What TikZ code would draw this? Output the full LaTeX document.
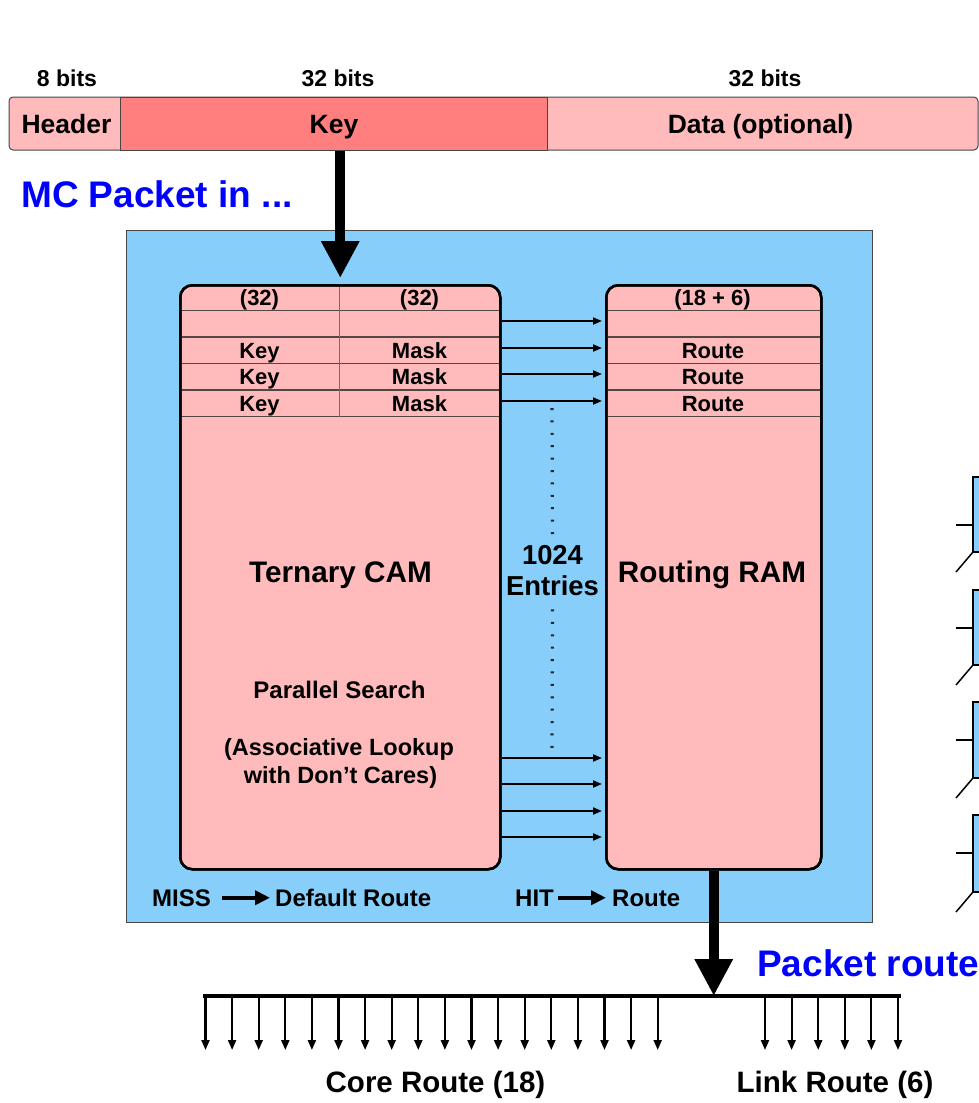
\documentclass[tikz,border=0pt]{standalone}
\usepackage{fontspec}
\setmainfont{Liberation Sans}
\usetikzlibrary{arrows.meta,calc}
\definecolor{skyb}{RGB}{135,206,250}
\definecolor{pinkf}{RGB}{255,187,187}
\definecolor{salmonf}{RGB}{255,127,127}
\definecolor{pblue}{RGB}{0,0,255}
\definecolor{edgegray}{RGB}{70,70,70}
\definecolor{rowgray}{RGB}{85,70,70}
\begin{document}
\begin{tikzpicture}[x=1pt,y=-1pt,
  lbl/.style={inner sep=0pt, anchor=base, text=black, font=\bfseries\fontsize{#1}{#1}\selectfont},
  lblw/.style={lbl=#1, anchor=base west},
  ramstyle/.style={draw=black, line width=2.5pt, fill=pinkf, rounded corners=12pt, inner sep=0pt, anchor=north west},
  rowline/.style={draw=rowgray, line width=1.6pt},
  bigarrow/.style={line width=10pt, -{Triangle[length=37pt,width=36pt]}},
  rowarrow/.style={line width=1.9pt, -{Triangle[length=9pt,width=7pt]}, shorten >=3pt},
  busarrow/.style={line width=2.1pt, -{Triangle[length=10pt,width=8pt]}},
  midarrow/.style={line width=4pt, -{Triangle[length=15pt,width=14pt]}},
  dotline/.style={draw=black!85, line width=3.2pt, dash pattern=on 2pt off 10.4pt},
  sideitem/.style={line width=1.5pt}
]
\useasboundingbox (0,0) rectangle (979,1103);

% ---------- packet bar ----------
\draw[draw=edgegray, line width=1pt, fill=pinkf, rounded corners=4pt] (9,97) rectangle (978,150);
\node[draw=edgegray, line width=1pt, fill=salmonf, minimum width=427pt, minimum height=53pt, inner sep=0pt, anchor=north west] (keyc) at (120,97) {};
\node[lbl=23] (b8) at (67,86) {8 bits};
\node[lbl=23] (b32a) at (338,86) {32 bits};
\node[lbl=23] (b32b) at (765,86) {32 bits};
\node[lbl=26.5] (thdr) at (66.5,133) {Header};
\node[lbl=26.5] (tkey) at (334,133) {Key};
\node[lbl=26.5] (tdata) at (760.5,133) {Data (optional)};

\node[lblw=37, text=pblue] (mcin) at (21,207) {MC Packet in ...};

% ---------- chip ----------
\node[draw=edgegray, line width=1.2pt, fill=skyb, minimum width=746pt, minimum height=692pt, inner sep=0pt, anchor=north west] (chip) at (126,230) {};

\node[ramstyle, minimum width=320pt, minimum height=584pt] (cam) at (179,284) {};
\node[ramstyle, minimum width=215pt, minimum height=584pt] (ram) at (605,284) {};

% row coordinates
\coordinate (l1) at (0,310.5);
\coordinate (l2) at (0,337);
\coordinate (l3) at (0,363.5);
\coordinate (l4) at (0,390);
\coordinate (l5) at (0,416.5);
\foreach \l in {l1,l2,l3,l4,l5}{
  \draw[rowline] (cam.west |- \l) -- (cam.east |- \l);
  \draw[rowline] (ram.west |- \l) -- (ram.east |- \l);
}
\coordinate (vtop) at (339,284);
\coordinate (vbot) at (339,416.5);
\draw[draw=rowgray!80, line width=1pt] (vtop) -- (vbot);
% redraw outlines on top
\node[ramstyle, fill=none, minimum width=320pt, minimum height=584pt] at (179,284) {};
\node[ramstyle, fill=none, minimum width=215pt, minimum height=584pt] at (605,284) {};

\node[lbl=22] (h1) at (259.5,305) {(32)};
\node[lbl=22] (h2) at (419.5,305) {(32)};
\node[lbl=22] (h3) at (712.5,305) {(18 + 6)};
\foreach \yb/\n in {358/1,384/2,411/3}{
  \node[lbl=22] (k\n) at (259.5,\yb) {Key};
  \node[lbl=22] (m\n) at (419.5,\yb) {Mask};
  \node[lbl=22] (r\n) at (713,\yb) {Route};
}

\node[lbl=29.7] (tcam) at (340.5,582) {Ternary CAM};
\node[lbl=29.7] (tram) at (712,582) {Routing RAM};
\node[lbl=24] (psearch) at (339.5,698) {Parallel Search};
\node[lbl=23.5] (assoc1) at (339,755) {(Associative Lookup};
\node[lbl=23.5] (assoc2) at (340.5,783) {with Don’t Cares)};

\node[lbl=27.4] (n1024) at (552.5,564) {1024};
\node[lbl=27.4] (nent) at (552.5,595) {Entries};
\coordinate (dtop) at (552,408);
\coordinate (dbot) at (552,750);
\draw[dotline] (dtop) -- ([yshift=8pt]n1024.north);
\draw[dotline] ([yshift=-14pt]nent.south) -- (dbot);

% arrows between CAM and RAM
\foreach \yy in {321,348,374,401,758,784,811,837}{
  \coordinate (ar) at (0,\yy);
  \draw[rowarrow] (cam.east |- ar) -- (ram.west |- ar);
}

% MISS / HIT
\node[lblw=24] (miss) at (152,906) {MISS};
\node[lblw=24] (dflt) at (275,906) {Default Route};
\node[lblw=24] (hit) at (515,906) {HIT};
\node[lblw=24] (hroute) at (612,906) {Route};
\draw[midarrow, shorten <=11pt, shorten >=5pt] (miss.east) -- (miss.east -| dflt.west);
\draw[midarrow, shorten <=4pt, shorten >=6pt] (hit.east) -- (hit.east -| hroute.west);

% ---------- big arrows ----------
\draw[bigarrow, shorten >=6pt] (keyc.south -| cam.north) -- (cam.north);

\coordinate (busL) at (203,996);
\coordinate (busR) at (901,996);
\draw[bigarrow] (ram.south) -- (ram.south |- busL);
\draw[line width=4pt] (busL) -- (busR);
\foreach \i in {0,...,17}{
  \draw[busarrow] ($(busL)+(2.5+\i*26.6,0)$) -- ++(0,54);
}
\foreach \i in {0,...,5}{
  \draw[busarrow] ($(busL)+(562+\i*26.6,0)$) -- ++(0,54);
}
\node[lbl=29.5] (core) at (435.5,1092) {Core Route (18)};
\node[lbl=29.5] (link) at (835,1092) {Link Route (6)};

\node[lblw=37, text=pblue] (pout) at (757,976) {Packet route};

% ---------- partial items at right edge ----------
\foreach \t/\m/\b in {477/525/552, 590/628/665, 702/740/778, 815/853/892}{
  \draw[sideitem, fill=skyb] (973,\t) rectangle (995,\b);
  \draw[sideitem] (956,\m) -- (973,\m);
  \draw[sideitem] (973,\b) -- (956,\b+20);
}
\end{tikzpicture}
\end{document}
